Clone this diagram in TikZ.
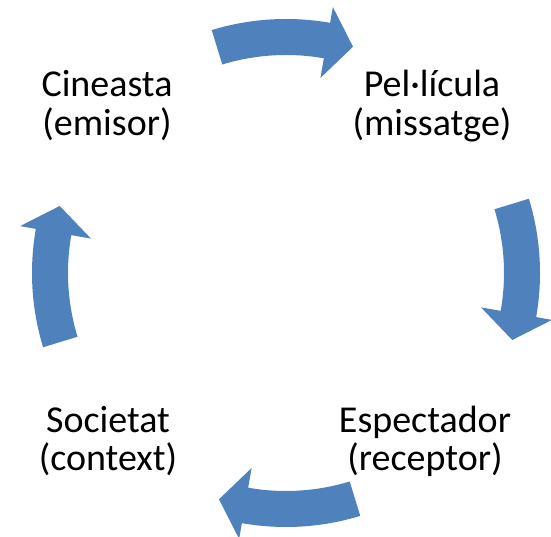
\documentclass[tikz,border=0pt]{standalone}
\usepackage{fontspec}
\setmainfont{Carlito}
\definecolor{blaucicle}{RGB}{79,129,189}
\tikzset{
  fletxa/.style={fill=blaucicle,draw=none},
  etiqueta/.style={align=center,anchor=base,inner sep=0pt,font=\fontsize{38}{38.5}\selectfont}
}
\begin{document}
\begin{tikzpicture}[x=1pt,y=1pt]
 \useasboundingbox (-286,-264) rectangle (265,273);
 \fill[fletxa](107:254) arc[start angle=107,end angle=80,radius=254]--(80:270)--(73.5:236)--(80:198)--(80:218) arc[start angle=80,end angle=107,radius=218]--cycle;
 \fill[fletxa](17:254) arc[start angle=17,end angle=-10,radius=254]--(-10:270)--(-16.5:236)--(-10:198)--(-10:218) arc[start angle=-10,end angle=17,radius=218]--cycle;
 \fill[fletxa](-73:254) arc[start angle=-73,end angle=-100,radius=254]--(-100:270)--(-106.5:236)--(-100:198)--(-100:218) arc[start angle=-100,end angle=-73,radius=218]--cycle;
 \fill[fletxa](197:254) arc[start angle=197,end angle=170,radius=254]--(170:270)--(163.5:236)--(170:198)--(170:218) arc[start angle=170,end angle=197,radius=218]--cycle;
 \node[etiqueta] (cineasta) at (-179,137.5) {Cineasta\\(emisor)};
 \node[etiqueta] (pellicula) at (146,137.5) {Pel·lícula\\(missatge)};
 \node[etiqueta] (espectador) at (139,-198) {Espectador\\(receptor)};
 \node[etiqueta] (societat) at (-178,-198) {Societat\\(context)};
\end{tikzpicture}
\end{document}
